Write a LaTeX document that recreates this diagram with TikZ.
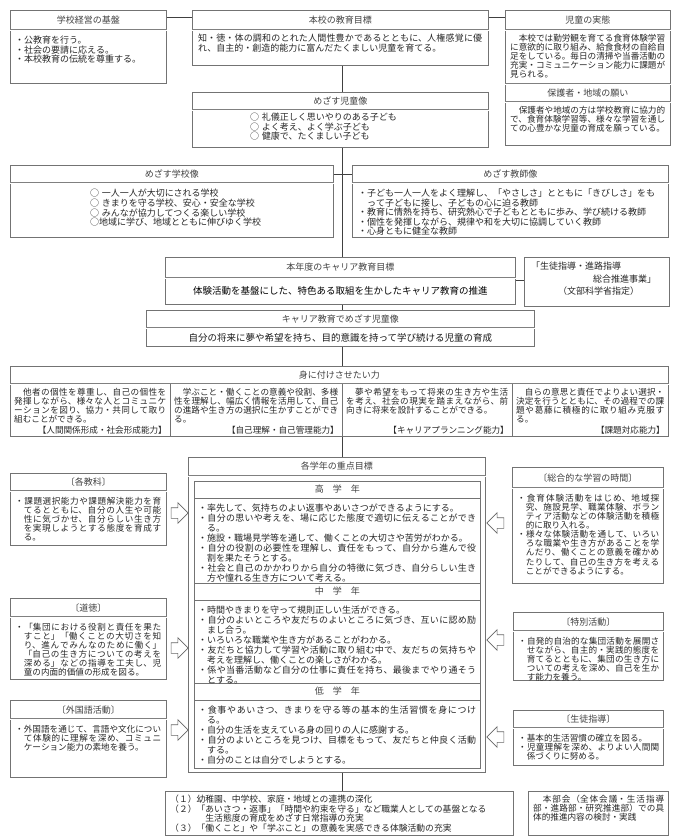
\documentclass[tikz,border=0pt]{standalone}
\usepackage{fontspec}
\setmainfont{Noto Sans CJK JP}
\usepackage{tikz}
\usetikzlibrary{calc,shapes.arrows}
\XeTeXlinebreaklocale "ja"
\XeTeXlinebreakskip=0pt plus 1pt
\setlength{\parindent}{0pt}
\newcommand{\itm}[1]{\par\hangindent=1em\hangafter=1\noindent ・#1\par}

\begin{document}
\begin{tikzpicture}[x=1pt,y=-1pt,
  box/.style={draw=black!55,line width=0.8pt,anchor=north west,inner sep=0pt},
  ttl/.style={inner sep=0pt,text=black!75,font=\fontsize{9}{10}\selectfont},
  txt/.style={anchor=north west,inner sep=0pt,text=black!85,align=justify,font=\fontsize{9}{9.6}\selectfont},
  smalltxt/.style={txt,font=\fontsize{8.6}{9.1}\selectfont},
  gradetxt/.style={txt,font=\fontsize{9}{10}\selectfont},
  titlesep/.style={draw=black!50,line width=0.4pt,double,double distance=0.8pt},
  rule/.style={draw=black!55,line width=0.6pt},
  link/.style={draw=black!75,line width=1pt},
  rarr/.style={single arrow,draw=black!60,line width=0.6pt,fill=white,inner xsep=0pt,inner ysep=5pt,minimum height=17pt,minimum width=20pt,single arrow head extend=5pt},
  larr/.style={rarr,shape border rotate=180}]
\useasboundingbox (0,0) rectangle (674,837);
\coordinate (spine) at (342,0);

\node[box,minimum width=156pt,minimum height=73pt] (kiban) at (10,10) {};
\node[ttl] (kibanT) at ($(kiban.north)+(0,10)$) {学校経営の基盤};
\draw[titlesep] ($(kiban.north west)+(0,20)$) -- ($(kiban.north east)+(0,20)$);
\node[txt,text width=146pt] (kibanC) at ($(kiban.north west)+(5,24)$) {\itm{公教育を行う。}\itm{社会の要請に応える。}\itm{本校教育の伝統を尊重する。}};

\node[box,minimum width=296pt,minimum height=55pt] (mokuhyo) at (192,10) {};
\node[ttl] (mokuhyoT) at ($(mokuhyo.north)+(0,10)$) {本校の教育目標};
\draw[titlesep] ($(mokuhyo.north west)+(0,20)$) -- ($(mokuhyo.north east)+(0,20)$);
\node[txt,text width=284pt] (mokuhyoC) at ($(mokuhyo.north west)+(6,24)$) {知・徳・体の調和のとれた人間性豊かであるとともに、人権感覚に優れ、自主的・創造的能力に富んだたくましい児童を育てる。};

\node[box,minimum width=165pt,minimum height=135pt] (jittai) at (505,10) {};
\node[ttl] (jittaiT) at ($(jittai.north)+(0,10)$) {児童の実態};
\draw[titlesep] ($(jittai.north west)+(0,20)$) -- ($(jittai.north east)+(0,20)$);
\node[smalltxt,text width=155pt] (jittaiC) at ($(jittai.north west)+(5,24)$) {　本校では勤労観を育てる食育体験学習に意欲的に取り組み、給食食材の自給自足をしている。毎日の清掃や当番活動の充実・コミュニケーション能力に課題が見られる。};
\draw[titlesep] ($(jittai.north west)+(0,74)$) -- ($(jittai.north east)+(0,74)$);
\node[ttl] (negaiT) at ($(jittai.north)+(0,83)$) {保護者・地域の願い};
\draw[titlesep] ($(jittai.north west)+(0,92)$) -- ($(jittai.north east)+(0,92)$);
\node[smalltxt,text width=155pt] (negaiC) at ($(jittai.north west)+(5,96)$) {　保護者や地域の方は学校教育に協力的で、食育体験学習等、様々な学習を通しての心豊かな児童の育成を願っている。};

\node[box,minimum width=296pt,minimum height=55pt] (jidouzo) at (192,92) {};
\node[ttl] (jidouzoT) at ($(jidouzo.north)+(0,9)$) {めざす児童像};
\draw[titlesep] ($(jidouzo.north west)+(0,18)$) -- ($(jidouzo.north east)+(0,18)$);
\node[txt,align=left] (jidouzoC) at (250,113) {○\hspace{0.3em}礼儀正しく思いやりのある子ども\\○\hspace{0.3em}よく考え、よく学ぶ子ども\\○\hspace{0.3em}健康で、たくましい子ども};

\node[box,minimum width=323pt,minimum height=72pt] (gakkouzo) at (10,165) {};
\node[ttl] (gakkouzoT) at ($(gakkouzo.north)+(0,9)$) {めざす学校像};
\draw[titlesep] ($(gakkouzo.north west)+(0,18)$) -- ($(gakkouzo.north east)+(0,18)$);
\node[txt,align=left] (gakkouzoC) at (90,189) {○\hspace{0.3em}一人一人が大切にされる学校\\○\hspace{0.3em}きまりを守る学校、安心・安全な学校\\○\hspace{0.3em}みんなが協力してつくる楽しい学校\\○地域に学び、地域とともに伸びゆく学校};

\node[box,minimum width=316pt,minimum height=72pt] (kyoshizo) at (352,165) {};
\node[ttl] (kyoshizoT) at ($(kyoshizo.north)+(0,9)$) {めざす教師像};
\draw[titlesep] ($(kyoshizo.north west)+(0,18)$) -- ($(kyoshizo.north east)+(0,18)$);
\node[txt,text width=297pt,font=\fontsize{9}{9.5}\selectfont] (kyoshizoC) at ($(kyoshizo.north west)+(6,22)$) {\itm{子ども一人一人をよく理解し、「やさしさ」とともに「きびしさ」をもって子どもに接し、子どもの心に迫る教師}\itm{教育に情熱を持ち、研究熱心で子どもとともに歩み、学び続ける教師}\itm{個性を発揮しながら、規律や和を大切に協調していく教師}\itm{心身ともに健全な教師}};

\node[box,minimum width=350pt,minimum height=47pt] (honnendo) at (165,257) {};
\node[ttl] (honnendoT) at ($(honnendo.north)+(0,10)$) {本年度のキャリア教育目標};
\draw[titlesep] ($(honnendo.north west)+(0,21)$) -- ($(honnendo.north east)+(0,21)$);
\node[inner sep=0pt,text=black,font=\fontsize{9.5}{10}\selectfont] (honnendoC) at ($(honnendo.north)+(0,34)$) {体験活動を基盤にした、特色ある取組を生かしたキャリア教育の推進};

\node[box,minimum width=145pt,minimum height=49pt] (shitei) at (524,257) {};
\node[txt,align=left,font=\fontsize{9}{12.5}\selectfont] (shiteiC) at (531,262) {「生徒指導・進路指導\\\hspace*{62pt}総合推進事業」\\\hspace*{27pt}（文部科学省指定）};

\node[box,minimum width=388pt,minimum height=36pt] (career) at (146,310) {};
\node[ttl] (careerT) at ($(career.north)+(0,9)$) {キャリア教育でめざす児童像};
\draw[titlesep] ($(career.north west)+(0,18)$) -- ($(career.north east)+(0,18)$);
\node[inner sep=0pt,text=black!90,font=\fontsize{9.5}{10}\selectfont] (careerC) at ($(career.north)+(0,28)$) {自分の将来に夢や希望を持ち、目的意識を持って学び続ける児童の育成};

\node[box,minimum width=658pt,minimum height=70pt] (chikara) at (10,366) {};
\node[ttl] (chikaraT) at ($(chikara.north)+(0,9)$) {身に付けさせたい力};
\draw[titlesep] ($(chikara.north west)+(0,18)$) -- ($(chikara.north east)+(0,18)$);
\draw[rule] ($(chikara.north west)+(160,18)$) -- ($(chikara.south west)+(160,0)$);
\draw[rule] ($(chikara.north west)+(332,18)$) -- ($(chikara.south west)+(332,0)$);
\draw[rule] ($(chikara.north west)+(502,18)$) -- ($(chikara.south west)+(502,0)$);
\node[smalltxt,text width=152pt] (col1) at (14,388) {　他者の個性を尊重し、自己の個性を発揮しながら、様々な人とコミュニケーションを図り、協力・共同して取り組むことができる。};
\node[smalltxt,text width=164pt] (col2) at (174,388) {　学ぶこと・働くことの意義や役割、多様性を理解し、幅広く情報を活用して、自己の進路や生き方の選択に生かすことができる。};
\node[smalltxt,text width=162pt] (col3) at (346,388) {　夢や希望をもって将来の生き方や生活を考え、社会の現実を踏まえながら、前向きに将来を設計することができる。};
\node[smalltxt,text width=148pt] (col4) at (516,388) {　自らの意思と責任でよりよい選択・決定を行うとともに、その過程での課題や葛藤に積極的に取り組み克服する。};
\node[inner sep=0pt,anchor=south east,text=black!85,font=\fontsize{8.6}{9}\selectfont] (lab1) at (167,434) {【人間関係形成・社会形成能力】};
\node[inner sep=0pt,anchor=south east,text=black!85,font=\fontsize{8.6}{9}\selectfont] (lab2) at (339,434) {【自己理解・自己管理能力】};
\node[inner sep=0pt,anchor=south east,text=black!85,font=\fontsize{8.6}{9}\selectfont] (lab3) at (509,434) {【キャリアプランニング能力】};
\node[inner sep=0pt,anchor=south east,text=black!85,font=\fontsize{8.6}{9}\selectfont] (lab4) at (665,434) {【課題対応能力】};

\node[box,minimum width=297pt,minimum height=315pt] (jyuten) at (188,457) {};
\node[ttl] (jyutenT) at ($(jyuten.north)+(0,9)$) {各学年の重点目標};
\draw[titlesep] ($(jyuten.north west)+(0,19)$) -- ($(jyuten.north east)+(0,19)$);
\node[box,minimum width=286pt,minimum height=287pt] (inner) at (194,481) {};
\draw[rule] ($(inner.north west)+(0,17)$) -- ($(inner.north east)+(0,17)$);
\draw[rule] ($(inner.north west)+(0,102)$) -- ($(inner.north east)+(0,102)$);
\draw[rule] ($(inner.north west)+(0,119)$) -- ($(inner.north east)+(0,119)$);
\draw[rule] ($(inner.north west)+(0,202)$) -- ($(inner.north east)+(0,202)$);
\draw[rule] ($(inner.north west)+(0,219)$) -- ($(inner.north east)+(0,219)$);
\node[ttl] (kouT) at ($(inner.north)+(0,8.5)$) {高　学　年};
\node[ttl] (chuT) at ($(inner.north)+(0,110.5)$) {中　学　年};
\node[ttl] (teiT) at ($(inner.north)+(0,210.5)$) {低　学　年};
\node[gradetxt,text width=278pt] (kouC) at (198,501) {\itm{率先して、気持ちのよい返事やあいさつができるようにする。}\itm{自分の思いや考えを、場に応じた態度で適切に伝えることができる。}\itm{施設・職場見学等を通して、働くことの大切さや苦労がわかる。}\itm{自分の役割の必要性を理解し、責任をもって、自分から進んで役割を果たそうとする。}\itm{社会と自己のかかわりから自分の特徴に気づき、自分らしい生き方や憧れる生き方について考える。}};
\node[gradetxt,text width=278pt] (chuC) at (198,603) {\itm{時間やきまりを守って規則正しい生活ができる。}\itm{自分のよいところや友だちのよいところに気づき、互いに認め励まし合う。}\itm{いろいろな職業や生き方があることがわかる。}\itm{友だちと協力して学習や活動に取り組む中で、友だちの気持ちや考えを理解し、働くことの楽しさがわかる。}\itm{係や当番活動など自分の仕事に責任を持ち、最後までやり通そうとする。}};
\node[gradetxt,text width=278pt] (teiC) at (198,703) {\itm{食事やあいさつ、きまりを守る等の基本的生活習慣を身につける。}\itm{自分の生活を支えている身の回りの人に感謝する。}\itm{自分のよいところを見つけ、目標をもって、友だちと仲良く活動する。}\itm{自分のことは自分でしようとする。}};

\node[box,minimum width=156pt,minimum height=72pt] (kyoka) at (10,473) {};
\node[ttl] (kyokaT) at ($(kyoka.north)+(0,9)$) {〔各教科〕};
\draw[titlesep] ($(kyoka.north west)+(0,18)$) -- ($(kyoka.north east)+(0,18)$);
\node[smalltxt,text width=146pt] (kyokaC) at ($(kyoka.north west)+(5,22)$) {\itm{課題選択能力や課題解決能力を育てるとともに、自分の人生や可能性に気づかせ、自分らしい生き方を実現しようとする態度を育成する。}};

\node[box,minimum width=156pt,minimum height=81pt] (dotoku) at (10,598) {};
\node[ttl] (dotokuT) at ($(dotoku.north)+(0,10)$) {〔道徳〕};
\draw[titlesep] ($(dotoku.north west)+(0,19)$) -- ($(dotoku.north east)+(0,19)$);
\node[smalltxt,text width=146pt] (dotokuC) at ($(dotoku.north west)+(5,23)$) {\itm{「集団における役割と責任を果たすこと」「働くことの大切さを知り、進んでみんなのために働く」「自己の生き方についての考えを深める」などの指導を工夫し、児童の内面的価値の形成を図る。}};

\node[box,minimum width=156pt,minimum height=77pt] (gaikoku) at (10,700) {};
\node[ttl] (gaikokuT) at ($(gaikoku.north)+(0,10)$) {〔外国語活動〕};
\draw[titlesep] ($(gaikoku.north west)+(0,19)$) -- ($(gaikoku.north east)+(0,19)$);
\node[smalltxt,text width=146pt] (gaikokuC) at ($(gaikoku.north west)+(5,23)$) {\itm{外国語を通じて、言語や文化について体験的に理解を深め、コミュニケーション能力の素地を養う。}};

\node[box,minimum width=151pt,minimum height=116pt] (sogo) at (512,467) {};
\node[ttl] (sogoT) at ($(sogo.north)+(0,11)$) {〔総合的な学習の時間〕};
\draw[titlesep] ($(sogo.north west)+(0,21)$) -- ($(sogo.north east)+(0,21)$);
\node[smalltxt,text width=142pt] (sogoC) at ($(sogo.north west)+(5,25)$) {\itm{食育体験活動をはじめ、地域探究、施設見学、職業体験、ボランティア活動などの体験活動を積極的に取り入れる。}\itm{様々な体験活動を通して、いろいろな職業や生き方があることを学んだり、働くことの意義を確かめたりして、自己の生き方を考えることができるようにする。}};

\node[box,minimum width=150pt,minimum height=68pt] (tokkatsu) at (513,612) {};
\node[ttl] (tokkatsuT) at ($(tokkatsu.north)+(0,10)$) {〔特別活動〕};
\draw[titlesep] ($(tokkatsu.north west)+(0,19)$) -- ($(tokkatsu.north east)+(0,19)$);
\node[smalltxt,text width=141pt] (tokkatsuC) at ($(tokkatsu.north west)+(5,23)$) {\itm{自発的自治的な集団活動を展開させながら、自主的・実践的態度を育てるとともに、集団の生き方についての考えを深め、自己を生かす能力を養う。}};

\node[box,minimum width=150pt,minimum height=55pt] (seito) at (513,710) {};
\node[ttl] (seitoT) at ($(seito.north)+(0,9)$) {〔生徒指導〕};
\draw[titlesep] ($(seito.north west)+(0,18)$) -- ($(seito.north east)+(0,18)$);
\node[smalltxt,text width=141pt] (seitoC) at ($(seito.north west)+(5,22)$) {\itm{基本的生活習慣の確立を図る。}\itm{児童理解を深め、よりよい人間関係づくりに努める。}};

\node[rarr] (ar1) at (177,513) {};
\node[rarr] (ar2) at (177,648) {};
\node[rarr] (ar3) at (177,730) {};
\node[larr] (al1) at (498,523) {};
\node[larr] (al2) at (498,640) {};
\node[larr] (al3) at (498,737) {};

\node[box,minimum width=348pt,minimum height=44pt] (hoshin) at (165,791) {};
\node[txt,align=left,font=\fontsize{8.8}{9.5}\selectfont] (hoshinC) at (170,795) {（１）幼稚園、中学校、家庭・地域との連携の深化\\（２）「あいさつ・返事」「時間や約束を守る」など職業人としての基盤となる\\\hspace*{4em}生活態度の育成をめざす日常指導の充実\\（３）「働くこと」や「学ぶこと」の意義を実感できる体験活動の充実};

\node[box,minimum width=140pt,minimum height=44pt] (kaigi) at (528,791) {};
\node[smalltxt,text width=131pt] (kaigiC) at (533,795) {　本部会（全体会議・生活指導部・進路部・研究推進部）での具体的推進内容の検討・実践};

\draw[link] ($(kiban.north east)+(0,8)$) -- ($(mokuhyo.north west)+(0,8)$);
\draw[link] ($(mokuhyo.north east)+(0,8)$) -- ($(jittai.north west)+(0,8)$);
\draw[link] (mokuhyo.south -| spine) -- (jidouzo.north -| spine);
\draw[link] (jidouzo.south -| spine) -- (honnendo.north -| spine);
\draw[link] ($(gakkouzo.north east)+(0,10)$) -- ($(kyoshizo.north west)+(0,10)$);
\draw[link] (honnendo.east) -- (shitei.west |- honnendo.east);
\draw[link] (honnendo.south -| spine) -- (career.north -| spine);
\draw[link] (career.south -| spine) -- (chikara.north -| spine);
\draw[link] (chikara.south -| spine) -- (jyuten.north -| spine);
\draw[link] (jyuten.south -| spine) -- (hoshin.north -| spine);
\end{tikzpicture}
\end{document}
